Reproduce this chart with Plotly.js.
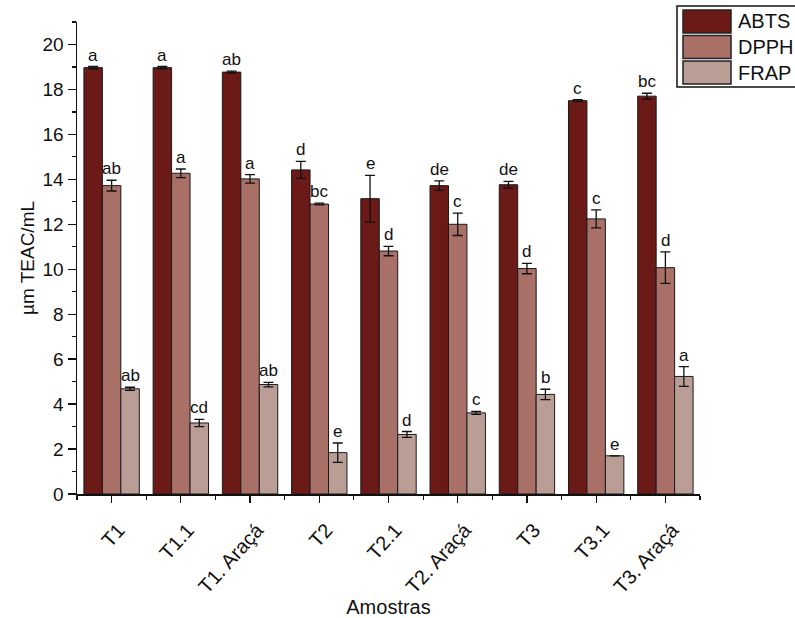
<!DOCTYPE html>
<html>
<head>
<meta charset="utf-8">
<script src="https://cdn.plot.ly/plotly-3.0.1.min.js"></script>
<style>html,body{margin:0;padding:0;background:#fff}#chart{width:795px;height:618px}</style>
</head>
<body>
<div id="chart"></div>
<script>
const categories = ["T1", "T1.1", "T1. Araçá", "T2", "T2.1", "T2. Araçá", "T3", "T3.1", "T3. Araçá"];
const seriesNames = ["ABTS", "DPPH", "FRAP"];
const abts = [18.97, 18.97, 18.77, 14.42, 13.14, 13.72, 13.76, 17.50, 17.70];
const abtsErr = [0.05, 0.05, 0.04, 0.38, 1.04, 0.21, 0.15, 0.04, 0.13];
const dpph = [13.72, 14.27, 14.02, 12.90, 10.81, 12.00, 10.03, 12.24, 10.07];
const dpphErr = [0.24, 0.19, 0.19, 0.04, 0.21, 0.50, 0.23, 0.40, 0.70];
const frap = [4.68, 3.16, 4.87, 1.84, 2.65, 3.61, 4.43, 1.70, 5.23];
const frapErr = [0.07, 0.16, 0.10, 0.43, 0.13, 0.07, 0.23, 0.00, 0.44];
const abtsLetters = ["a", "a", "ab", "d", "e", "de", "de", "c", "bc"];
const dpphLetters = ["ab", "a", "a", "bc", "d", "c", "d", "c", "d"];
const frapLetters = ["ab", "cd", "ab", "e", "d", "c", "b", "e", "a"];
const colors = ["#6b1a17", "#a87066", "#ba9e96"];

const W = 795, H = 618;
const M = {l: 77, r: 95, t: 22, b: 124};
const FONT = "Liberation Sans, Arial, sans-serif";

const values = [abts, dpph, frap];
const errors = [abtsErr, dpphErr, frapErr];
const letters = [abtsLetters, dpphLetters, frapLetters];
const xpos = categories.map((c, i) => i);
const bargap = 0.2;
const barW = (1 - bargap) / seriesNames.length;

const traces = seriesNames.map((name, k) => ({
  type: "bar",
  name: name,
  x: xpos,
  y: values[k],
  marker: {color: colors[k], line: {color: "#1a1a1a", width: 1}},
  error_y: {type: "data", array: errors[k], visible: true, color: "#111", thickness: 1.3, width: 5}
}));

const annotations = [];
seriesNames.forEach((name, k) => {
  xpos.forEach((x, i) => {
    annotations.push({
      x: x + (k - 1) * barW,
      y: values[k][i] + errors[k][i],
      xref: "x", yref: "y",
      text: letters[k][i],
      showarrow: false,
      yanchor: "bottom",
      yshift: 0,
      font: {family: FONT, size: 17, color: "#111"}
    });
  });
});

// custom legend with large swatches (pixel -> paper helpers)
const pw = W - M.l - M.r, ph = H - M.t - M.b;
const px = v => (v - M.l) / pw;
const py = v => (H - M.b - v) / ph;
const shapes = [{
  type: "rect", xref: "paper", yref: "paper",
  x0: px(677), x1: px(800), y0: py(87), y1: py(6),
  line: {color: "#111", width: 1.5}, fillcolor: "#fff", layer: "above"
}];
seriesNames.forEach((name, k) => {
  const top = 10 + k * 25.5;
  shapes.push({
    type: "rect", xref: "paper", yref: "paper",
    x0: px(683), x1: px(731), y0: py(top + 23), y1: py(top),
    line: {color: "#222", width: 1.5}, fillcolor: colors[k], layer: "above"
  });
  annotations.push({
    xref: "paper", yref: "paper", x: px(736), y: py(top + 11.5),
    xanchor: "left", yanchor: "middle", showarrow: false,
    text: name, font: {family: FONT, size: 20, color: "#111"}
  });
});

const layout = {
  width: W, height: H,
  margin: Object.assign({autoexpand: false}, M),
  paper_bgcolor: "#fff", plot_bgcolor: "#fff",
  font: {family: FONT, color: "#111"},
  barmode: "group",
  bargap: bargap,
  bargroupgap: 0,
  showlegend: false,
  xaxis: {
    range: [-0.5, 8.5],
    tickvals: xpos, ticktext: categories,
    tickangle: -48,
    ticks: "outside", ticklen: 7, tickwidth: 1.3, tickcolor: "#111",
    minor: {tick0: 0.5, dtick: 1, ticks: "outside", ticklen: 4, tickwidth: 1.2, tickcolor: "#111"},
    ticklabelshift: 7, ticklabelstandoff: 8,
    showline: true, linecolor: "#111", linewidth: 1.5,
    showgrid: false, zeroline: false,
    tickfont: {size: 20, color: "#111"},
    title: {text: "Amostras", font: {size: 20, color: "#111"}, standoff: 2}
  },
  yaxis: {
    range: [0, 21],
    dtick: 2, tick0: 0,
    ticks: "outside", ticklen: 8, tickwidth: 1.3, tickcolor: "#111",
    minor: {dtick: 1, ticks: "outside", ticklen: 4, tickwidth: 1.2, tickcolor: "#111"},
    showline: true, linecolor: "#111", linewidth: 1.5,
    showgrid: false, zeroline: false,
    tickfont: {size: 19, color: "#111"},
    title: {text: "µm TEAC/mL", font: {size: 19, color: "#111"}, standoff: 3}
  },
  shapes: shapes,
  annotations: annotations
};

Plotly.newPlot("chart", traces, layout, {displayModeBar: false, staticPlot: true});
</script>
</body>
</html>
